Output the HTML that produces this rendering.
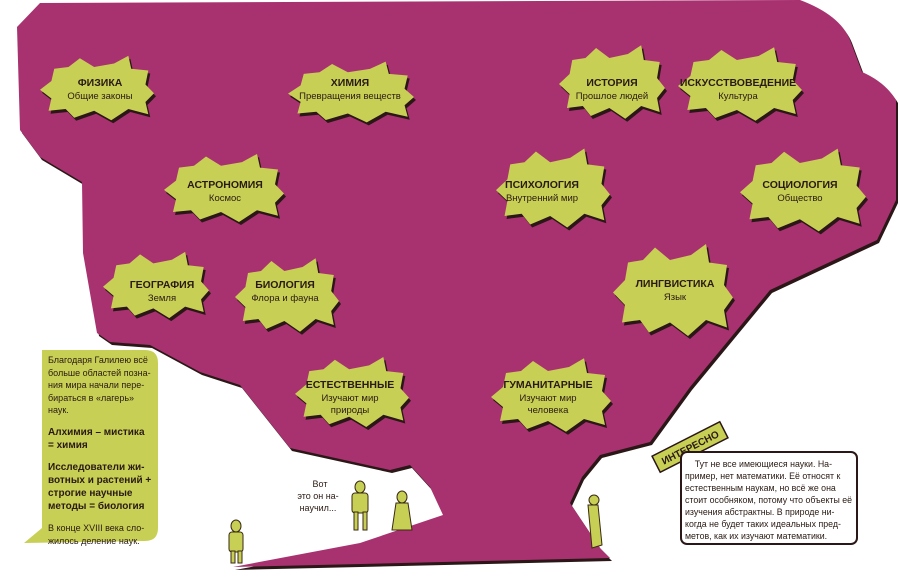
<!DOCTYPE html>
<html><head><meta charset="utf-8"><style>
body{margin:0;width:900px;height:586px;overflow:hidden;background:#fff;font-family:"Liberation Sans","DejaVu Sans",sans-serif}
.t{font-family:"Liberation Sans","DejaVu Sans",sans-serif;fill:#2a1a14}
.b{font-weight:bold;font-size:10.5px}
.s{font-size:9.5px}
.box{position:absolute;font-size:9px;line-height:12.6px;color:#2a1a14}
</style></head><body>
<svg width="900" height="586" style="position:absolute;left:0;top:0">
<defs>
<path id="bl" d="M-0.75,-0.55 L-0.5,-0.6 L-0.3,-0.85 L-0.05,-0.6 L0.3,-0.7 L0.55,-0.92 L0.6,-0.55 L0.9,-0.5 L0.85,-0.1 L1,0.15 L0.85,0.4 L0.9,0.75 L0.55,0.6 L0.25,0.92 L-0.05,0.65 L-0.4,0.85 L-0.55,0.6 L-0.85,0.65 L-0.8,0.3 L-1,0.05 L-0.8,-0.2 Z"/>
<path id="cr" d="M17,27 L40,3 L800,0 Q840,15 850,40 L862,72 Q885,82 896,100 L896,200 L877,240 L770,290 L690,387 L650,442 L600,455 L582,477 L570,503 L600,548 L610,558 L233,567 L360,543 L443,515 L430,487 L410,465 L390,470 L290,448 L240,385 L200,372 L150,345 L110,342 L97,333 L83,253 L82,182 L40,157 L20,130 Z"/>
</defs>
<use href="#cr" fill="#2b1717" transform="translate(2,3)"/>
<use href="#cr" fill="#a8326f"/>
<g fill="#2b1717">
<use href="#bl" transform="translate(99,91) scale(57,35)"/>
<use href="#bl" transform="translate(353,95) scale(63,33)"/>
<use href="#bl" transform="translate(614,85) scale(53,40)"/>
<use href="#bl" transform="translate(742,87) scale(62,40)"/>
<use href="#bl" transform="translate(226,191) scale(60,37)"/>
<use href="#bl" transform="translate(555,191) scale(57,43)"/>
<use href="#bl" transform="translate(805,193) scale(63,45)"/>
<use href="#bl" transform="translate(158,288) scale(53,36)"/>
<use href="#bl" transform="translate(289,298) scale(52,40)"/>
<use href="#bl" transform="translate(675,293) scale(60,50)"/>
<use href="#bl" transform="translate(354,395) scale(57,38)"/>
<use href="#bl" transform="translate(553,398) scale(60,40)"/>
</g>
<g fill="#c8cf55">
<use href="#bl" transform="translate(97,88) scale(57,35)"/>
<use href="#bl" transform="translate(351,92) scale(63,33)"/>
<use href="#bl" transform="translate(612,82) scale(53,40)"/>
<use href="#bl" transform="translate(740,84) scale(62,40)"/>
<use href="#bl" transform="translate(224,188) scale(60,37)"/>
<use href="#bl" transform="translate(553,188) scale(57,43)"/>
<use href="#bl" transform="translate(803,190) scale(63,45)"/>
<use href="#bl" transform="translate(156,285) scale(53,36)"/>
<use href="#bl" transform="translate(287,295) scale(52,40)"/>
<use href="#bl" transform="translate(673,290) scale(60,50)"/>
<use href="#bl" transform="translate(352,392) scale(57,38)"/>
<use href="#bl" transform="translate(551,395) scale(60,40)"/>
</g>
<g text-anchor="middle">
<text class="t b" x="100" y="86">ФИЗИКА</text><text class="t s" x="100" y="99">Общие законы</text>
<text class="t b" x="350" y="86">ХИМИЯ</text><text class="t s" x="350" y="99">Превращения веществ</text>
<text class="t b" x="612" y="86">ИСТОРИЯ</text><text class="t s" x="612" y="99">Прошлое людей</text>
<text class="t b" x="738" y="86" font-size="10">ИСКУССТВОВЕДЕНИЕ</text><text class="t s" x="738" y="99">Культура</text>
<text class="t b" x="225" y="188">АСТРОНОМИЯ</text><text class="t s" x="225" y="201">Космос</text>
<text class="t b" x="542" y="188">ПСИХОЛОГИЯ</text><text class="t s" x="542" y="201">Внутренний мир</text>
<text class="t b" x="800" y="188">СОЦИОЛОГИЯ</text><text class="t s" x="800" y="201">Общество</text>
<text class="t b" x="162" y="288">ГЕОГРАФИЯ</text><text class="t s" x="162" y="301">Земля</text>
<text class="t b" x="285" y="288">БИОЛОГИЯ</text><text class="t s" x="285" y="301">Флора и фауна</text>
<text class="t b" x="675" y="287">ЛИНГВИСТИКА</text><text class="t s" x="675" y="300">Язык</text>
<text class="t b" x="350" y="388">ЕСТЕСТВЕННЫЕ</text><text class="t s" x="350" y="401">Изучают мир</text><text class="t s" x="350" y="413">природы</text>
<text class="t b" x="548" y="388">ГУМАНИТАРНЫЕ</text><text class="t s" x="548" y="401">Изучают мир</text><text class="t s" x="548" y="413">человека</text>
<text class="t" font-size="9" x="320" y="487">Вот</text>
<text class="t" font-size="9" x="318" y="499">это он на-</text>
<text class="t" font-size="9" x="318" y="511">научил...</text>
</g>
<path d="M42,350 L145,350 Q158,350 158,363 L158,528 Q158,541 145,541 L24,543 L42,528 Z" fill="#c8cf55"/>
<g fill="#c8cf55" stroke="#3a2a14" stroke-width="1">
<ellipse cx="236" cy="526" rx="5" ry="6"/><rect x="229" y="532" width="14" height="20" rx="3"/><rect x="231" y="551" width="4" height="12"/><rect x="238" y="551" width="4" height="12"/>
<ellipse cx="360" cy="487" rx="5" ry="6"/><rect x="352" y="493" width="16" height="20" rx="3"/><rect x="354" y="512" width="4" height="18"/><rect x="363" y="512" width="4" height="18"/>
<ellipse cx="402" cy="497" rx="5" ry="6"/><path d="M396,503 L408,503 L412,530 L392,530 Z"/>
<ellipse cx="594" cy="500" rx="5" ry="5"/><path d="M588,505 L598,505 L602,545 L592,548 Z"/>
</g>
<g transform="translate(690,447) rotate(-27)">
<rect x="-38" y="-9" width="76" height="18" fill="#c8cf55" stroke="#2b1717" stroke-width="1.5"/>
<text class="t" x="0" y="4" text-anchor="middle" font-size="10" font-weight="bold">ИНТЕРЕСНО</text>
</g>
<rect x="681" y="452" width="176" height="92" rx="6" fill="#fff" stroke="#2b1717" stroke-width="2"/>
</svg>
<div class="box" style="left:48px;top:354px;width:104px">Благодаря Галилею всё больше областей позна­ния мира начали пере­бираться в «лагерь» наук.
<div style="font-weight:bold;font-size:10px;margin-top:9px;line-height:13px">Алхимия – мистика = химия</div>
<div style="font-weight:bold;font-size:10px;margin-top:9px;line-height:13px">Исследователи жи­вотных и растений + строгие научные методы = биология</div>
<div style="margin-top:9px">В конце XVIII века сло­жилось деление наук.</div></div>
<div class="box" style="left:685px;top:458px;width:168px;font-size:8.8px;line-height:12px">&nbsp;&nbsp;&nbsp;&nbsp;Тут не все имеющиеся науки. На­пример, нет математики. Её относят к естественным наукам, но всё же она стоит особняком, потому что объекты её изучения абстрактны. В природе ни­когда не будет таких идеальных пред­метов, как их изучают математики.</div>
</body></html>
